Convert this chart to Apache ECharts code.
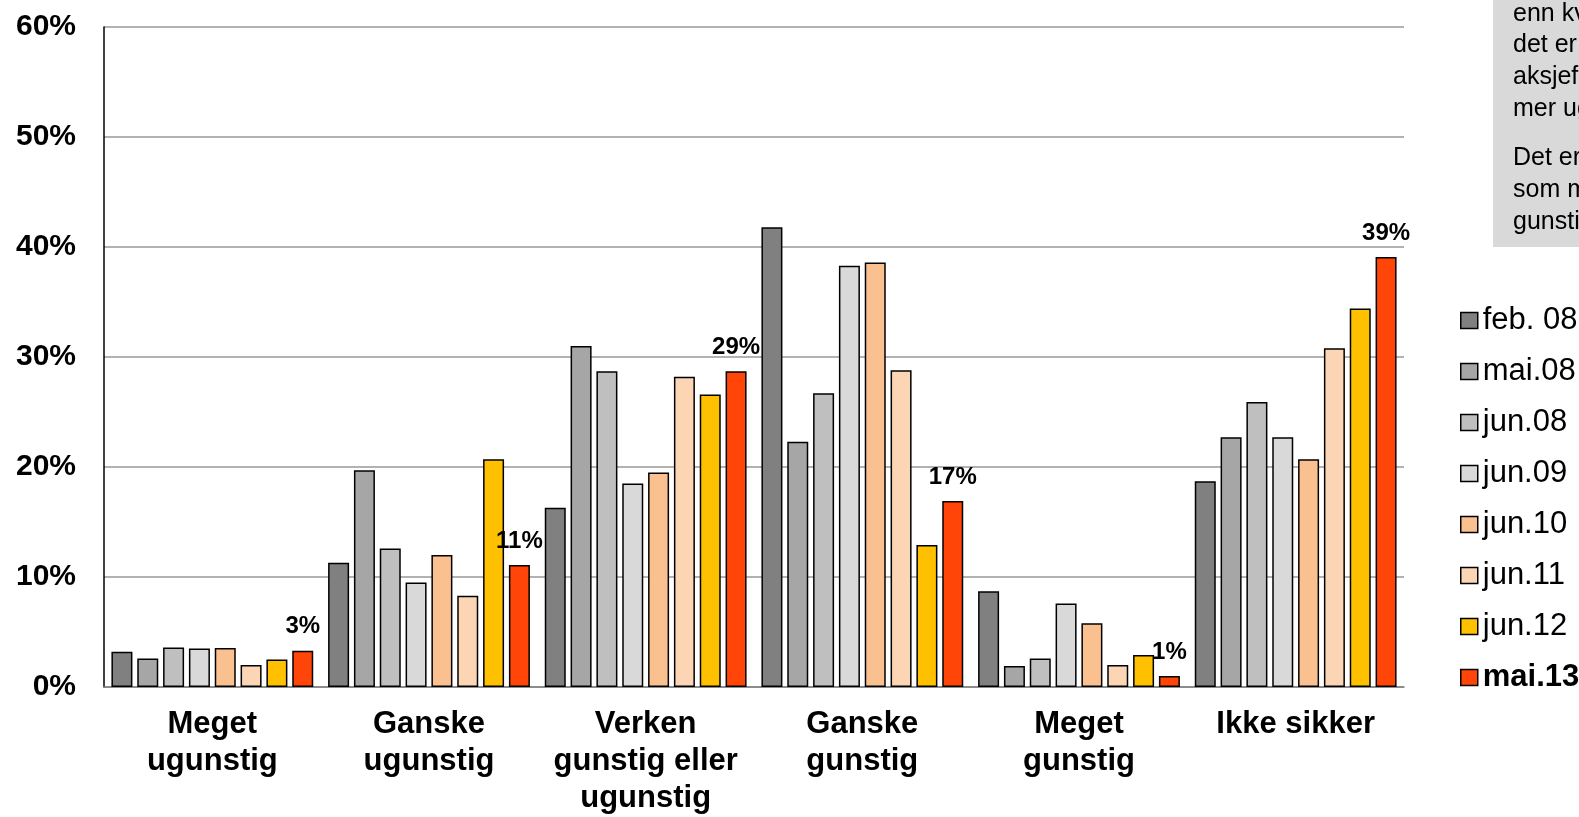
<!DOCTYPE html>
<html>
<head>
<meta charset="utf-8">
<title>Aksjefond</title>
<script src="https://cdn.jsdelivr.net/npm/echarts@6/dist/echarts.min.js"></script>
<style>
  html, body { margin: 0; padding: 0; background: #fff; }
  #chart { width: 1579px; height: 817px; }
</style>
</head>
<body>
<div id="chart"></div>
<script>
var categories = ['Meget\nugunstig', 'Ganske\nugunstig', 'Verken\ngunstig eller\nugunstig', 'Ganske\ngunstig', 'Meget\ngunstig', 'Ikke sikker']
var seriesNames = ['feb. 08', 'mai.08', 'jun.08', 'jun.09', 'jun.10', 'jun.11', 'jun.12', 'mai.13']
var feb08 = [3.2, 11.3, 16.3, 41.8, 8.7, 18.7]
var mai08 = [2.6, 19.7, 31.0, 22.3, 1.9, 22.7]
var jun08 = [3.6, 12.6, 28.7, 26.7, 2.6, 25.9]
var jun09 = [3.5, 9.5, 18.5, 38.3, 7.6, 22.7]
var jun10 = [3.55, 12.0, 19.5, 38.6, 5.8, 20.7]
var jun11 = [2.0, 8.3, 28.2, 28.8, 2.0, 30.8]
var jun12 = [2.5, 20.7, 26.6, 12.9, 2.9, 34.4]
var mai13 = [3.3, 11.1, 28.7, 16.9, 1.0, 39.1]
var yTicks = [0, 10, 20, 30, 40, 50, 60]

var colors = ['#808080', '#a6a6a6', '#bfbfbf', '#d9d9d9', '#fac090', '#fcd5b5', '#ffc000', '#ff4508']
var fontFamily = '"Liberation Sans", Arial, sans-serif'

var chart = echarts.init(document.getElementById('chart'))

var allData = [feb08, mai08, jun08, jun09, jun10, jun11, jun12, mai13]
var series = allData.map(function(data, i) {
  var s = {
    name: seriesNames[i],
    type: 'bar',
    barWidth: 21,
    barGap: '23%',
    data: data,
    itemStyle: {
      color: colors[i],
      borderColor: '#000',
      borderWidth: 1.5
    }
  }
  // only the latest survey gets value labels
  if (i === allData.length - 1) {
    s.label = {
      show: true,
      position: 'top',
      distance: 12,
      fontFamily: fontFamily,
      fontSize: 24,
      fontWeight: 'bold',
      color: '#000',
      formatter: function(p) {
        return Math.round(p.value) + '%'
      }
    }
  }
  return s
})

chart.setOption({
  animation: false,
  color: colors,
  grid: {
    left: 104,
    right: 175,
    top: 27,
    bottom: 128
  },
  legend: {
    orient: 'vertical',
    left: 1455,
    top: 300,
    itemWidth: 17,
    itemHeight: 16,
    itemGap: 20,
    icon: 'rect',
    itemStyle: {
      borderColor: '#000',
      borderWidth: 1.5
    },
    textStyle: {
      fontFamily: fontFamily,
      fontSize: 31,
      color: '#000'
    },
    data: seriesNames.map(function(n, i) {
      if (i === seriesNames.length - 1) {
        return { name: n, textStyle: { fontWeight: 'bold' } }
      }
      return n
    })
  },
  xAxis: {
    type: 'category',
    data: categories,
    axisLine: { show: true, lineStyle: { color: '#808080', width: 1.5 } },
    axisTick: { show: false },
    axisLabel: {
      margin: 19,
      interval: 0,
      fontFamily: fontFamily,
      fontSize: 31,
      fontWeight: 'bold',
      lineHeight: 37,
      color: '#000'
    }
  },
  yAxis: {
    type: 'value',
    min: yTicks[0],
    max: yTicks[yTicks.length - 1],
    interval: 10,
    axisLine: { show: true, lineStyle: { color: '#000', width: 1.5 } },
    axisTick: { show: false },
    splitLine: { lineStyle: { color: '#999', width: 1.5 } },
    axisLabel: {
      margin: 28,
      fontFamily: fontFamily,
      fontSize: 30,
      fontWeight: 'bold',
      color: '#000',
      formatter: '{value}%'
    }
  },
  graphic: [
    {
      type: 'rect',
      shape: { x: 1493, y: 0, width: 90, height: 247 },
      style: { fill: '#d9d9d9' }
    },
    {
      type: 'text',
      x: 1513,
      y: -2,
      style: {
        text: 'enn kvartalet før, og\ndet er flere som tror\naksjefondene vil gå\nmer ugunstig.',
        fontFamily: fontFamily,
        fontSize: 25,
        lineHeight: 31.7,
        fill: '#000'
      }
    },
    {
      type: 'text',
      x: 1513,
      y: 142,
      style: {
        text: 'Det er færre\nsom mener utviklingen blir\ngunstig.',
        fontFamily: fontFamily,
        fontSize: 25,
        lineHeight: 32,
        fill: '#000'
      }
    }
  ],
  series: series
})
</script>
</body>
</html>
